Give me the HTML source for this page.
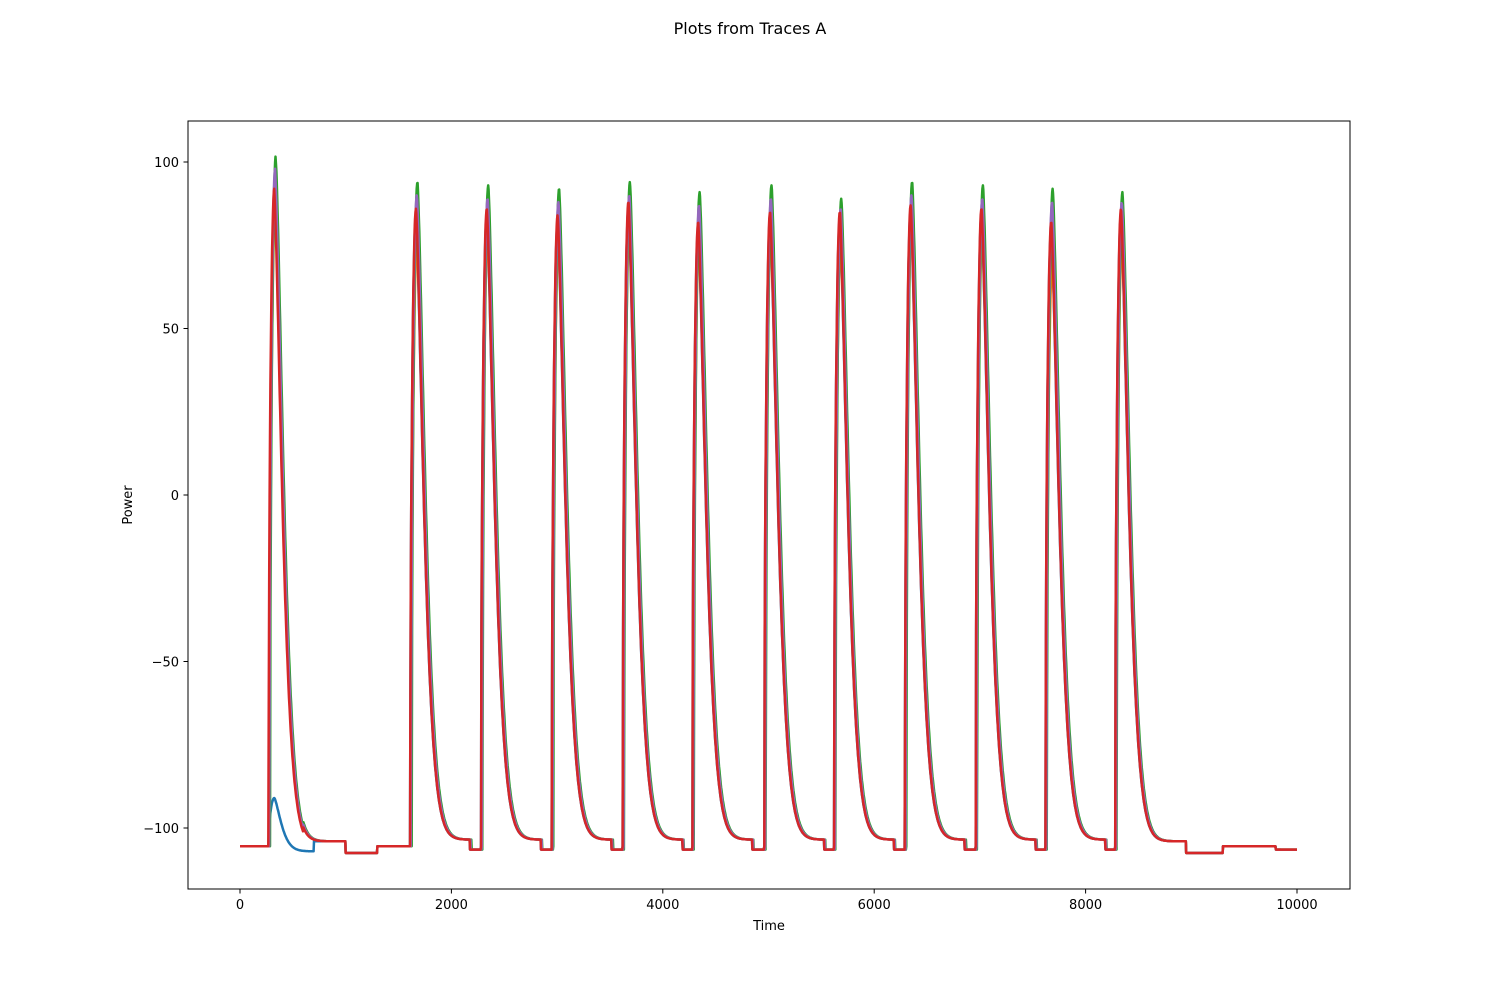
<!DOCTYPE html>
<html><head><meta charset="utf-8"><style>
body{margin:0;background:#fff;}
svg text{font-family:"DejaVu Sans","Liberation Sans",sans-serif;fill:#000;}
</style></head><body>
<svg id="chart" width="1500" height="1000" xmlns="http://www.w3.org/2000/svg">
<rect width="1500" height="1000" fill="#fff"/>
<text x="750" y="34" font-size="16" text-anchor="middle">Plots from Traces A</text>
<g id="plot"></g>
<rect x="188" y="121" width="1162" height="768" fill="none" stroke="#000" stroke-width="1"/>
<g id="xticks"></g>
<g id="yticks"></g>
<text x="769" y="930" font-size="13" text-anchor="middle">Time</text>
<text transform="translate(132,505) rotate(-90)" font-size="13" text-anchor="middle">Power</text>
</svg>
<script>
const spikeStarts=[270,1610,2280,2950,3620,4280,4960,5620,6290,6960,7620,8280];
const peaksBlue=[-91,84,84,82,86,80,83,83,85,84,80,84];
const peaksOrange=[88,76,80,78,82,78,80,76,82,80,70,76];
const peaksGreen=[102,94,93,92,94,91,93,89,94,93,92,91];
const peaksPurple=[98,90,89,88,90,87,89,86,90,89,88,88];
const peaksRed=[92,86,86,84,88,82,85,85,87,86,82,86];
const baseTimes=[0,600,1000,1300,8300,8950,9300,9800,10000];
const baseLevels=[-105.5,-104,-107.5,-105.5,-104,-107.5,-105.5,-106.5,-106.5];
const xTicks=[0,2000,4000,6000,8000,10000];
const yTicks=[-100,-50,0,50,100];

const X=t=>240+(t/10000)*1057;
const Y=v=>495-v*3.33;
const NS="http://www.w3.org/2000/svg";

function baseAt(t){
  let lvl=baseLevels[0];
  for(let i=0;i<baseTimes.length;i++){if(t>=baseTimes[i])lvl=baseLevels[i];}
  return lvl;
}
function valueAt(t,peaks,off,isBlue){
  let v=null;
  const last=spikeStarts.length-1;
  for(let i=0;i<spikeStarts.length;i++){
    const s=spikeStarts[i]+off;
    const next=i<last?spikeStarts[i+1]+off:1e9;
    if(t>=s && t<next){
      const dt=t-s;
      const pre=-105.5;
      if(dt<55){v=pre+(peaks[i]-pre)*Math.pow(Math.sin(dt/55*Math.PI/2),0.5);}
      else{
        const d=dt-55;
        let plateau;
        if(i===0){plateau=isBlue?(t<700?-107:baseAt(t)):baseAt(t);}
        else if(i===last){plateau=baseAt(t);}
        else{plateau=d<510?-103.5:-106.5;}
        const amp=(i===0||i===last)?(peaks[i]-(isBlue&&i===0?-107:-103.5)):(peaks[i]-plateau);
        v=plateau+amp*Math.exp(-Math.pow(d/(isBlue&&i===0?90:105),1.4));
      }
    }
  }
  if(v===null) v=baseAt(t);
  return v;
}
const plot=document.getElementById('plot');
const series=[["blue","#1f77b4",peaksBlue,0],["orange","#ff7f0e",peaksOrange,10],["green","#2ca02c",peaksGreen,14],["purple","#9467bd",peaksPurple,8],["red","#d62728",peaksRed,0]];
series.forEach(([nm,col,pk,off])=>{
  let d="";
  const end=nm==="blue"?9850:10000;
  for(let t=0;t<=end;t+=4){d+=(t===0?"M":"L")+X(t).toFixed(1)+","+Y(valueAt(t,pk,off,nm==="blue")).toFixed(1);}
  const p=document.createElementNS(NS,"path");
  p.setAttribute("d",d);p.setAttribute("fill","none");p.setAttribute("stroke",col);
  p.setAttribute("stroke-width","2.5");p.setAttribute("stroke-linejoin","round");
  
  
  plot.appendChild(p);
});
const xg=document.getElementById('xticks');
xTicks.forEach(t=>{
  const l=document.createElementNS(NS,"line");
  l.setAttribute("x1",X(t));l.setAttribute("x2",X(t));l.setAttribute("y1",889);l.setAttribute("y2",893.5);l.setAttribute("stroke","#000");
  
  
  xg.appendChild(l);
  const tx=document.createElementNS(NS,"text");
  tx.setAttribute("x",X(t));tx.setAttribute("y",909);tx.setAttribute("font-size","13");tx.setAttribute("text-anchor","middle");
  tx.textContent=t;
  
  
  xg.appendChild(tx);
});
const yg=document.getElementById('yticks');
yTicks.forEach(v=>{
  const l=document.createElementNS(NS,"line");
  l.setAttribute("x1",183.5);l.setAttribute("x2",188);l.setAttribute("y1",Y(v));l.setAttribute("y2",Y(v));l.setAttribute("stroke","#000");
  
  
  yg.appendChild(l);
  const tx=document.createElementNS(NS,"text");
  tx.setAttribute("x",179);tx.setAttribute("y",Y(v)+5);tx.setAttribute("font-size","13");tx.setAttribute("text-anchor","end");
  tx.textContent=v<0?"\u2212"+(-v):v;
  
  
  yg.appendChild(tx);
});
</script>
</body></html>
